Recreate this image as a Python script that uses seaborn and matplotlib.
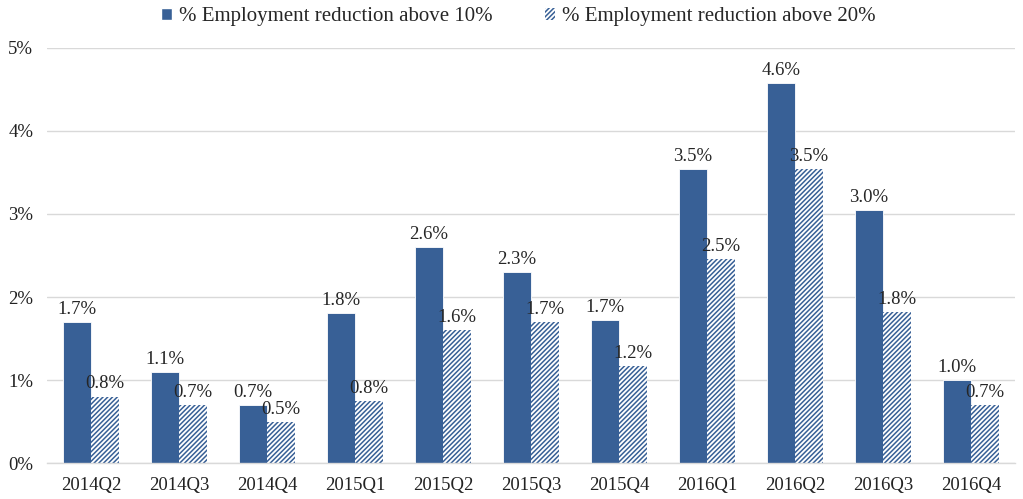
import matplotlib
matplotlib.use("Agg")
import matplotlib.pyplot as plt
import seaborn as sns
import pandas as pd

quarters = ["2014Q2", "2014Q3", "2014Q4", "2015Q1", "2015Q2", "2015Q3",
            "2015Q4", "2016Q1", "2016Q2", "2016Q3", "2016Q4"]
above_10 = [1.70, 1.10, 0.70, 1.81, 2.60, 2.30, 1.72, 3.54, 4.58, 3.05, 1.00]
above_20 = [0.80, 0.70, 0.49, 0.75, 1.60, 1.70, 1.17, 2.46, 3.54, 1.82, 0.70]
series = ["% Employment reduction above 10%", "% Employment reduction above 20%"]

df = pd.DataFrame({
    "quarter": quarters * 2,
    "value": above_10 + above_20,
    "series": [series[0]] * len(quarters) + [series[1]] * len(quarters),
})

sns.set_theme(style="white")
plt.rcParams["font.family"] = ["Liberation Serif", "DejaVu Serif"]
plt.rcParams["hatch.linewidth"] = 1.1

blue = "#386096"
fig, ax = plt.subplots(figsize=(10.23, 4.99), dpi=100)
fig.subplots_adjust(left=0.046, right=0.992, top=0.904, bottom=0.072)

sns.barplot(data=df, x="quarter", y="value", hue="series", order=quarters,
            hue_order=series, palette=[blue, "white"], saturation=1,
            width=0.63, gap=0, ax=ax, legend=True)

solid, hatched = ax.containers[0], ax.containers[1]
for bar in solid:
    bar.set_edgecolor("white")
    bar.set_linewidth(0.6)
for bar in hatched:
    bar.set_facecolor("white")
    bar.set_edgecolor(blue)
    bar.set_hatch("///////")
    bar.set_linewidth(0)

for cont, vals in zip(ax.containers, [above_10, above_20]):
    ax.bar_label(cont, labels=[f"{v:.1f}%" for v in vals], padding=3,
                 fontsize=13.5, color="#262626")

ax.set_ylim(0, 5)
ax.set_xlim(-0.5, len(quarters) - 0.5)
ax.set_yticks(range(0, 6))
ax.set_yticklabels([f"{t}%" for t in range(0, 6)])
ax.set_xlabel("")
ax.set_ylabel("")
ax.tick_params(axis="both", labelsize=13.5, colors="#222222", length=0)
ax.tick_params(axis="x", pad=10)
ax.tick_params(axis="y", pad=10)
ax.yaxis.grid(True, color="#D9D9D9", linewidth=1)
ax.set_axisbelow(True)
for side in ["left", "right", "top"]:
    ax.spines[side].set_visible(False)
ax.spines["bottom"].set_color("#D9D9D9")
ax.spines["bottom"].set_linewidth(1)

handles, labels = ax.get_legend_handles_labels()
for h in handles[1:]:
    h.set_facecolor("white")
    h.set_edgecolor(blue)
    h.set_hatch("///////")
    h.set_linewidth(0)
ax.legend(handles, labels, loc="center",
          bbox_to_anchor=(518.5 / 1023, 1 - 17 / 499),
          bbox_transform=fig.transFigure,
          ncol=2, frameon=False, fontsize=15, handlelength=0.5,
          handleheight=0.5, handletextpad=0.35, columnspacing=2.5,
          borderpad=0)

fig.savefig("out.png", dpi=100)
